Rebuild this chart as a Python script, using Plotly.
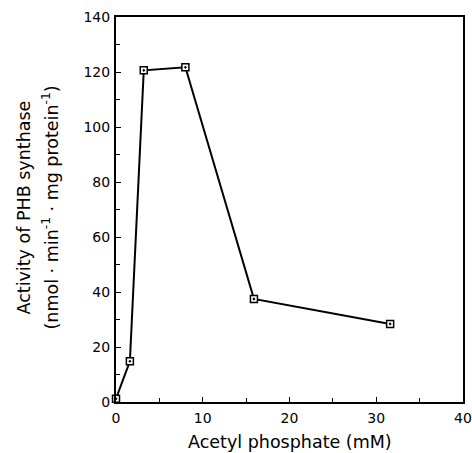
import plotly.graph_objects as go

acetyl_phosphate_mM = [0, 1.6, 3.2, 8.0, 15.9, 31.6]
activity = [1.2, 14.8, 120.6, 121.7, 37.5, 28.4]

x_ticks = [0, 10, 20, 30, 40]
y_ticks = [0, 20, 40, 60, 80, 100, 120, 140]

y_title_line1 = "Activity of PHB synthase"
y_title_line2 = "(nmol · min<sup>-1</sup> · mg protein<sup>-1</sup>)"
x_title = "Acetyl phosphate (mM)"

font_family = "DejaVu Sans"

fig = go.Figure()
fig.add_trace(go.Scatter(
    x=acetyl_phosphate_mM, y=activity,
    mode="lines+markers",
    line=dict(color="black", width=2),
    marker=dict(symbol="square-dot", size=7, color="white",
                line=dict(color="black", width=1.5)),
    cliponaxis=False,
))

fig.update_layout(
    width=472, height=453,
    margin=dict(l=116, r=9, t=17, b=51, autoexpand=False),
    paper_bgcolor="white", plot_bgcolor="white",
    showlegend=False,
    font=dict(family=font_family, color="black", size=14),
)
fig.update_xaxes(
    range=[0, 40], tickvals=x_ticks, ticktext=[str(v) for v in x_ticks],
    ticks="inside", ticklen=5, tickwidth=1.2, tickcolor="black",
    minor=dict(dtick=5, ticks="inside", ticklen=4, tickcolor="black", tickwidth=1.2),
    showline=True, linecolor="black", linewidth=2, mirror=True,
    showgrid=False, zeroline=False, automargin=False,
    ticklabeloverflow="allow",
    tickfont=dict(size=14), ticklabelstandoff=2,
)
fig.update_yaxes(
    range=[0, 140], tickvals=y_ticks, ticktext=[str(v) for v in y_ticks],
    ticks="inside", ticklen=5, tickwidth=1.2, tickcolor="black",
    minor=dict(dtick=10, ticks="inside", ticklen=4, tickcolor="black", tickwidth=1.2),
    showline=True, linecolor="black", linewidth=2, mirror=True,
    showgrid=False, zeroline=False, automargin=False,
    tickfont=dict(size=14), ticklabelstandoff=1,
)
fig.add_annotation(text=x_title, xref="paper", yref="paper", x=0.5, y=0,
                   xanchor="center", yanchor="middle", yshift=-40,
                   showarrow=False, font=dict(size=17.5))
fig.add_annotation(text=y_title_line1, xref="paper", yref="paper", x=0, y=0.5,
                   xanchor="center", yanchor="middle", xshift=-93, yshift=2,
                   textangle=-90, showarrow=False, font=dict(size=17.5))
fig.add_annotation(text=y_title_line2, xref="paper", yref="paper", x=0, y=0.5,
                   xanchor="center", yanchor="middle", xshift=-66, yshift=2,
                   textangle=-90, showarrow=False, font=dict(size=17.5))

fig.write_html("out.html", config={"displayModeBar": False})

# remove the browser's default page margin so the figure fills the window exactly
with open("out.html", encoding="utf-8") as f:
    html = f.read()
html = html.replace("<body>", '<body style="margin:0;padding:0;overflow:hidden">', 1)
with open("out.html", "w", encoding="utf-8") as f:
    f.write(html)
